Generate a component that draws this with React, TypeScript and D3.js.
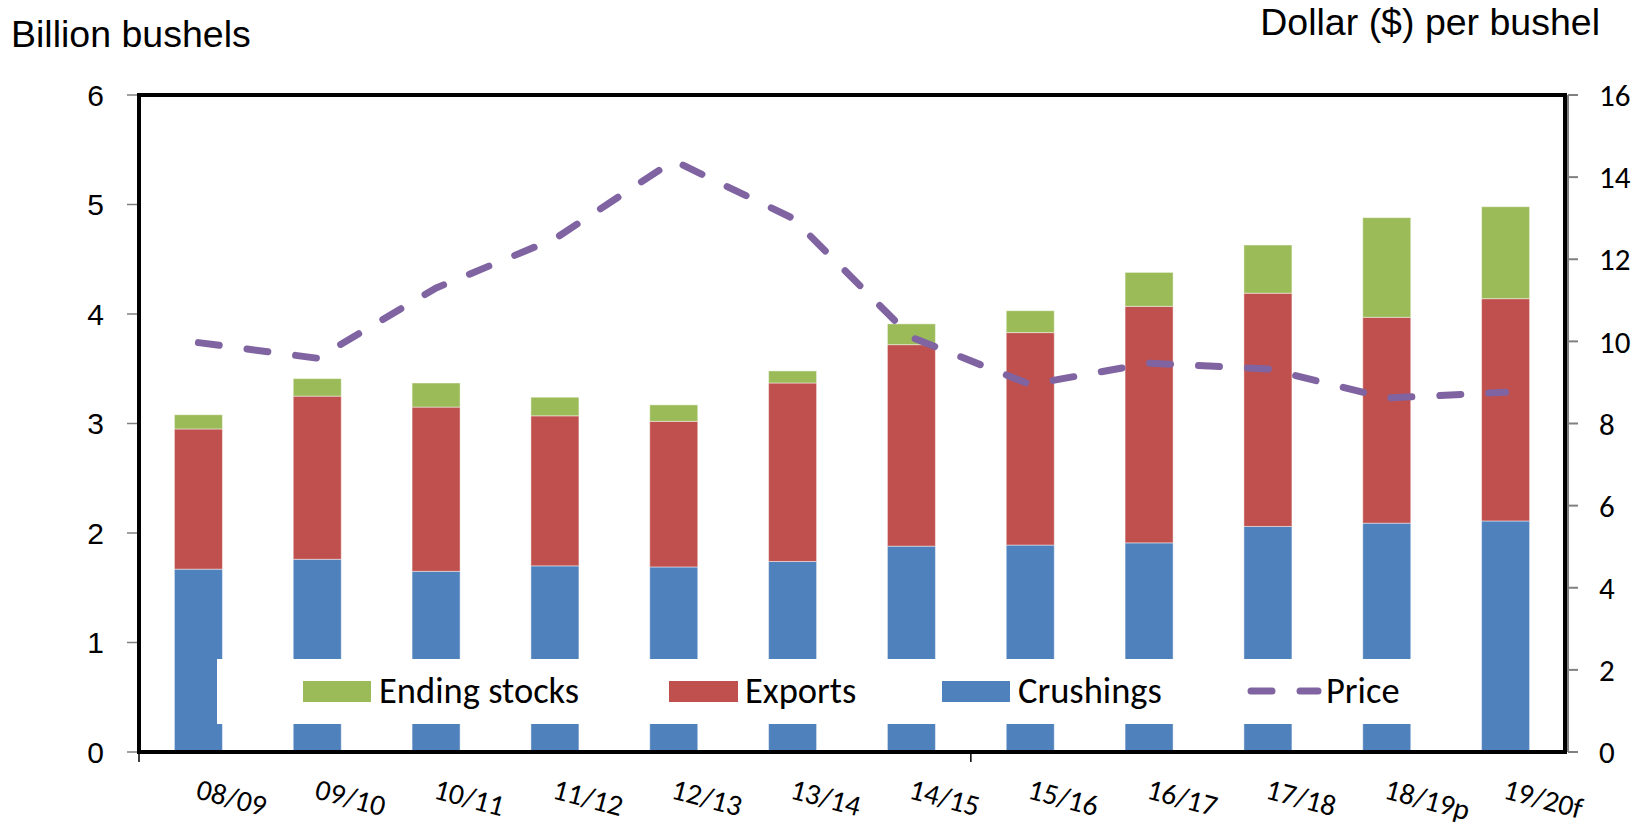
import React from "react";
import * as d3 from "d3";

const categories = ["08/09", "09/10", "10/11", "11/12", "12/13", "13/14", "14/15", "15/16", "16/17", "17/18", "18/19p", "19/20f"];
const crushings = [1.67, 1.76, 1.65, 1.70, 1.69, 1.74, 1.88, 1.89, 1.91, 2.06, 2.09, 2.11];
const exportsVals = [1.28, 1.49, 1.50, 1.37, 1.33, 1.63, 1.84, 1.94, 2.16, 2.13, 1.88, 2.03];
const endingStocks = [0.13, 0.16, 0.22, 0.17, 0.15, 0.11, 0.19, 0.20, 0.31, 0.44, 0.91, 0.84];
const price = [9.97, 9.59, 11.30, 12.50, 14.40, 13.00, 10.10, 8.95, 9.47, 9.33, 8.62, 8.76];
const leftTicks = [0, 1, 2, 3, 4, 5, 6];
const rightTicks = [0, 2, 4, 6, 8, 10, 12, 14, 16];

const COLORS = { crush: "#4F81BD", exp: "#C0504D", stock: "#9BBB59", price: "#8064A2" };
const CAL = "Carlito, Lato, sans-serif";
const ARIAL = "'Liberation Sans', Arial, sans-serif";

export default function App() {
  const L = 139, R = 1565, T = 95, B = 752;
  const x = d3.scaleBand<string>().domain(categories).range([L, R]).paddingInner(0.596).paddingOuter(0.298);
  const yL = d3.scaleLinear().domain([0, 6]).range([B, T]);
  const yR = d3.scaleLinear().domain([0, 16]).range([B, T]);
  const rows = categories.map((c, i) => ({ cat: c, crush: crushings[i], exp: exportsVals[i], stock: endingStocks[i] }));
  const keys = ["crush", "exp", "stock"] as const;
  const stack = d3.stack<any>().keys(keys as any)(rows);
  const cx = (c: string) => (x(c) as number) + x.bandwidth() / 2;
  const line = d3.line<number>().x((_, i) => cx(categories[i])).y((v) => yR(v));

  return (
    <svg width={1650} height={829} style={{ position: "absolute", left: 0, top: 0, background: "#fff" }}>
      <rect x={0} y={0} width={1650} height={829} fill="#fff" />
      <text x={11} y={47} fontFamily={ARIAL} fontSize={37.5} fill="#000">Billion bushels</text>
      <text x={1600} y={35} fontFamily={ARIAL} fontSize={37.5} fill="#000" textAnchor="end">Dollar ($) per bushel</text>

      {stack.map((layer) => (
        <g key={layer.key} fill={(COLORS as any)[layer.key]}>
          {layer.map((d, i) => (
            <rect key={i} x={x(categories[i])} width={x.bandwidth()} y={yL(d[1])} height={yL(d[0]) - yL(d[1])}
              stroke="#fff" strokeOpacity={0.45} strokeWidth={1} />
          ))}
        </g>
      ))}

      <path d={line(price) || ""} fill="none" stroke={COLORS.price} strokeWidth={7} strokeLinecap="round" strokeLinejoin="round" strokeDasharray="21 28" />

      {/* legend */}
      <rect x={217} y={659} width={1223} height={65} fill="#fff" />
      <rect x={303} y={681} width={68} height={21} fill={COLORS.stock} />
      <text x={379} y={703} fontFamily={CAL} fontSize={36.5}>Ending stocks</text>
      <rect x={669} y={681} width={69} height={21} fill={COLORS.exp} />
      <text x={745} y={703} fontFamily={CAL} fontSize={36.5}>Exports</text>
      <rect x={942} y={681} width={68} height={21} fill={COLORS.crush} />
      <text x={1018} y={703} fontFamily={CAL} fontSize={36.5}>Crushings</text>
      <line x1={1251} x2={1318} y1={691} y2={691} stroke={COLORS.price} strokeWidth={7} strokeLinecap="round" strokeDasharray="21 28" />
      <text x={1326} y={703} fontFamily={CAL} fontSize={36.5}>Price</text>

      {/* frame */}
      <rect x={L} y={T} width={R - L} height={B - T} fill="none" stroke="#000" strokeWidth={4} />
      <line x1={1568} x2={1568} y1={T} y2={B} stroke="#808080" strokeWidth={2} />

      {leftTicks.map((t) => (
        <g key={"l" + t}>
          <line x1={127} x2={137} y1={yL(t)} y2={yL(t)} stroke="#808080" strokeWidth={1.5} />
          <text x={104} y={yL(t)} dy="0.36em" textAnchor="end" fontFamily={ARIAL} fontSize={30}>{t}</text>
        </g>
      ))}
      {rightTicks.map((t) => (
        <g key={"r" + t}>
          <line x1={1568} x2={1578} y1={yR(t)} y2={yR(t)} stroke="#808080" strokeWidth={2} />
          <text x={1599} y={yR(t)} dy="0.36em" textAnchor="start" fontFamily={CAL} fontSize={31}>{t}</text>
        </g>
      ))}
      {[0, 7].map((i) => {
        const xx = L + i * x.step();
        return <line key={"xt" + i} x1={xx} x2={xx} y1={B} y2={B + 10} stroke="#000" strokeWidth={1.5} />;
      })}
      {categories.map((c) => (
        <text key={c} transform={`translate(${cx(c) - 1},788) rotate(15)`} dy="0.35em" fontFamily={CAL} fontSize={29.5}>{c}</text>
      ))}
    </svg>
  );
}
